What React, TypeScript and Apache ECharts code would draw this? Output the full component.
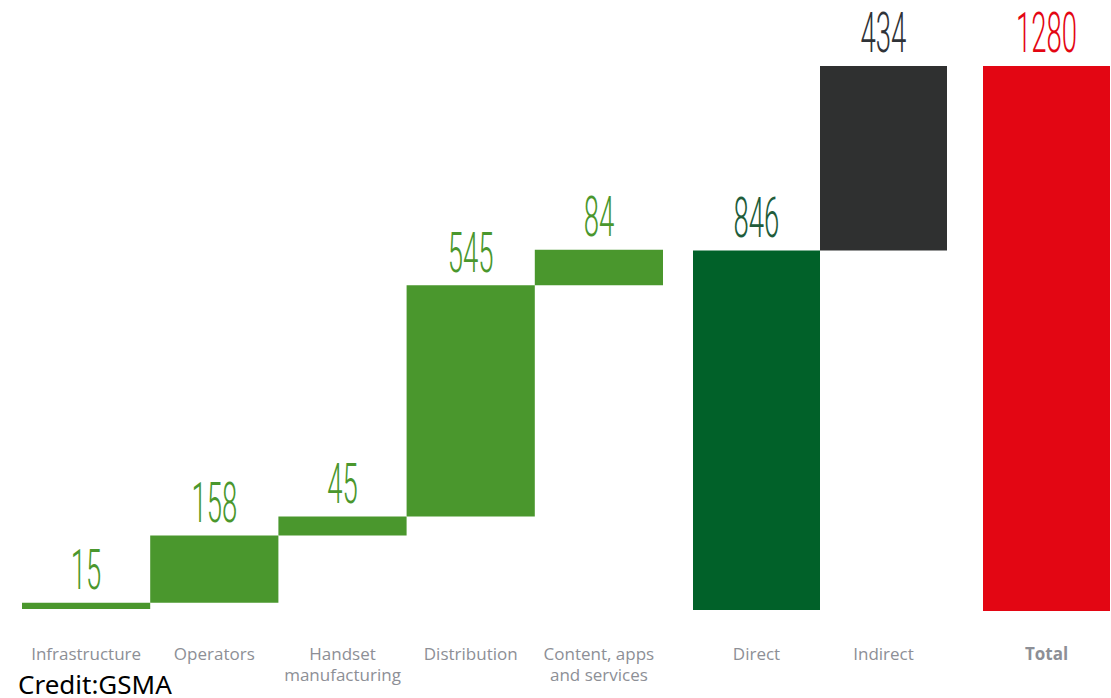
import React, { useEffect, useRef } from "react";
import * as echarts from "echarts";

const componentCategories = [
  "Infrastructure",
  "Operators",
  "Handset\nmanufacturing",
  "Distribution",
  "Content, apps\nand services",
];
const componentValues = [15, 158, 45, 545, 84];
const impactCategories = ["Direct", "Indirect"];
const impactValues = [846, 434];
const totalCategories = ["Total"];
const totalValues = [1280];
const yMax = 1280;

const GREEN = "#4a972d";
const DARK_GREEN = "#016129";
const DARK_GRAY = "#2f3030";
const RED = "#e30613";

function cumulativeBases(values: number[]): number[] {
  const out: number[] = [];
  let acc = 0;
  for (const v of values) {
    out.push(acc);
    acc += v;
  }
  return out;
}

export default function App() {
  const ref = useRef<HTMLDivElement>(null);
  useEffect(() => {
    document.body.style.margin = "0";
    if (!ref.current) return;
    const chart = echarts.init(ref.current, undefined, { renderer: "svg" });

    const compBases = cumulativeBases(componentValues);
    const impBases = cumulativeBases(impactValues);
    const totBases = totalValues.map(() => 0);

    const labelFont = "Roboto, 'Liberation Sans', sans-serif";
    const labelColors = [
      componentValues.map(() => GREEN),
      ["#215c3a", "#2f3338"],
      ["#e30613"],
    ];

    const makeX = (idx: number, data: string[], margin: number, bold = false) => ({
      type: "category",
      gridIndex: idx,
      data,
      axisLine: { show: false },
      axisTick: { show: false },
      axisLabel: {
        color: "#8d8f96",
        fontSize: 17,
        lineHeight: 21,
        margin,
        interval: 0,
        fontFamily: "'Open Sans', 'Noto Sans', sans-serif",
        fontWeight: bold ? "bold" : "normal",
      },
    });
    const makeY = (idx: number) => ({
      type: "value",
      gridIndex: idx,
      min: 0,
      max: yMax,
      show: false,
      splitLine: { show: false },
    });

    const barPair = (idx: number, bases: number[], values: number[], colors: string[]) => [
      {
        type: "bar",
        xAxisIndex: idx,
        yAxisIndex: idx,
        stack: "s" + idx,
        barWidth: "100%",
        barCategoryGap: "0%",
        itemStyle: { color: "transparent" },
        silent: true,
        data: bases,
      },
      {
        type: "bar",
        xAxisIndex: idx,
        yAxisIndex: idx,
        stack: "s" + idx,
        barWidth: "100%",
        barCategoryGap: "0%",
        data: values.map((v, i) => ({ value: v, itemStyle: { color: colors[i] } })),
      },
      {
        type: "custom",
        xAxisIndex: idx,
        yAxisIndex: idx,
        clip: false,
        data: values.map((v, i) => [i, bases[i] + v, v]),
        renderItem: (params: any, api: any) => {
          const p = api.coord([api.value(0), api.value(1)]);
          const i = params.dataIndex;
          return {
            type: "text",
            x: p[0],
            y: p[1] - 11,
            scaleX: 0.5,
            style: {
              text: String(api.value(2)),
              fontSize: 55,
              lineHeight: 42,
              fontWeight: 300,
              fontFamily: labelFont,
              fill: labelColors[idx][i],
              align: "center",
              verticalAlign: "bottom",
            },
          };
        },
      },
    ];

    chart.setOption({
      animation: false,
      grid: [
        { left: 22, width: 641, top: 66, bottom: 89 },
        { left: 693, width: 254, top: 66, bottom: 88 },
        { left: 983, width: 127, top: 66, bottom: 87 },
      ],
      xAxis: [
        makeX(0, componentCategories, 34),
        makeX(1, impactCategories, 33),
        makeX(2, totalCategories, 32, true),
      ],
      yAxis: [makeY(0), makeY(1), makeY(2)],
      series: [
        ...barPair(0, compBases, componentValues, componentValues.map(() => GREEN)),
        ...barPair(1, impBases, impactValues, [DARK_GREEN, DARK_GRAY]),
        ...barPair(2, totBases, totalValues, [RED]),
      ],
      graphic: [
        {
          type: "text",
          left: 18,
          bottom: 1,
          style: {
            text: "Credit:GSMA",
            fontSize: 26,
            fontFamily: "'Noto Sans', 'Open Sans', sans-serif",
            fill: "#000",
          },
        },
      ],
    });
    return () => chart.dispose();
  }, []);
  return <div ref={ref} style={{ width: 1111, height: 698 }} />;
}
